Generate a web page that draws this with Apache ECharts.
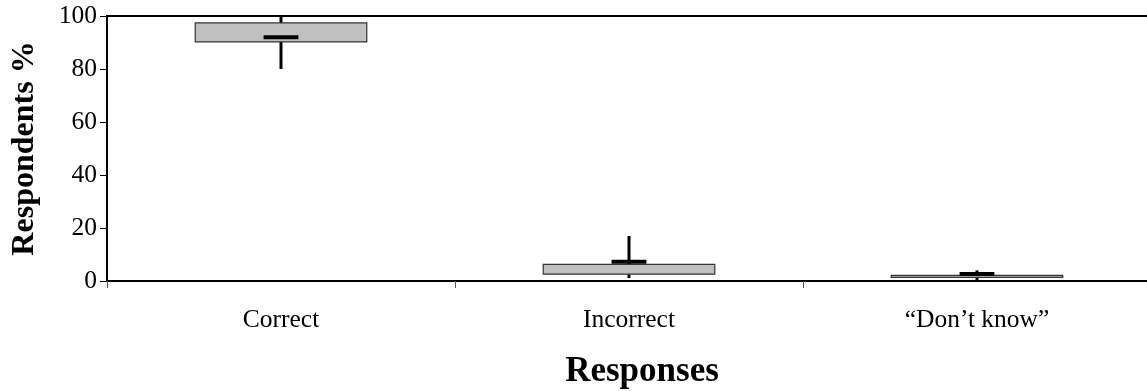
<!DOCTYPE html>
<html>
<head>
<meta charset="utf-8">
<script src="https://cdn.jsdelivr.net/npm/echarts@6/dist/echarts.min.js"></script>
<style>
html,body{margin:0;padding:0;background:#fff;}
#chart{width:1147px;height:391px;}
</style>
</head>
<body>
<div id="chart"></div>
<script>
const categories = ['Correct', 'Incorrect', '\u201cDon\u2019t know\u201d'];
const whiskerLow = [80, 1.1, 0.4];
const q1 = [90.2, 2.6, 1.4];
const median = [92, 7.3, 2.6];
const q3 = [97.4, 6.3, 2.15];
const whiskerHigh = [99.6, 17, 4.0];
const yTicks = { min: 0, max: 100, interval: 20 };

const FONT = '"Liberation Serif", "Times New Roman", serif';
const data = categories.map((c, i) => [i, whiskerLow[i], q1[i], median[i], q3[i], whiskerHigh[i]]);

const chart = echarts.init(document.getElementById('chart'), null, { renderer: 'canvas' });
chart.setOption({
  animation: false,
  backgroundColor: '#fff',
  grid: { left: 107, right: -4, top: 16, bottom: 110, show: true, borderColor: '#000', borderWidth: 2, backgroundColor: 'transparent', containLabel: false, outerBoundsMode: 'none' },
  xAxis: {
    type: 'category',
    data: categories,
    axisLine: { lineStyle: { color: '#000', width: 2 } },
    axisTick: { show: true, length: 7, lineStyle: { color: '#555', width: 1 } },
    axisLabel: { fontFamily: FONT, fontSize: 25.5, color: '#000', margin: 26 },
    name: 'Responses',
    nameLocation: 'middle',
    nameGap: 73,
    nameTextStyle: { fontFamily: FONT, fontSize: 35, fontWeight: 'bold', color: '#000', padding: [0, 0, 0, 26] },
    splitLine: { show: false }
  },
  yAxis: {
    type: 'value',
    min: yTicks.min, max: yTicks.max, interval: yTicks.interval,
    axisLine: { show: true, lineStyle: { color: '#000', width: 2 } },
    axisTick: { show: true, length: 7, lineStyle: { color: '#000', width: 1 } },
    axisLabel: { fontFamily: FONT, fontSize: 25.5, color: '#000', margin: 10 },
    splitLine: { show: false },
    name: 'Respondents %',
    nameLocation: 'middle',
    nameGap: 66,
    nameTextStyle: { fontFamily: FONT, fontSize: 32, fontWeight: 'bold', color: '#000' }
  },
  series: [{
    type: 'custom',
    data: data,
    encode: { x: 0, y: [1, 2, 3, 4, 5] },
    renderItem: function (params, api) {
      const idx = api.value(0);
      const band = api.size([1, 0])[0];
      const pLow = api.coord([idx, api.value(1)]);
      const pQ1 = api.coord([idx, api.value(2)]);
      const pMed = api.coord([idx, api.value(3)]);
      const pQ3 = api.coord([idx, api.value(4)]);
      const pHigh = api.coord([idx, api.value(5)]);
      const cx = pLow[0];
      const bw = band * 0.493;
      const mw = band * 0.1;
      const top = Math.min(pQ1[1], pQ3[1]);
      const h = Math.abs(pQ1[1] - pQ3[1]);
      return {
        type: 'group',
        children: [
          { type: 'line', shape: { x1: cx, y1: pLow[1], x2: cx, y2: pHigh[1] }, style: { stroke: '#000', lineWidth: 3 } },
          { type: 'rect', shape: { x: cx - bw / 2, y: top, width: bw, height: h }, style: { fill: '#c0c0c0', stroke: '#333', lineWidth: 1.2 } },
          { type: 'line', shape: { x1: cx - mw / 2, y1: pMed[1], x2: cx + mw / 2, y2: pMed[1] }, style: { stroke: '#000', lineWidth: 4 } }
        ]
      };
    }
  }]
});
</script>
</body>
</html>
